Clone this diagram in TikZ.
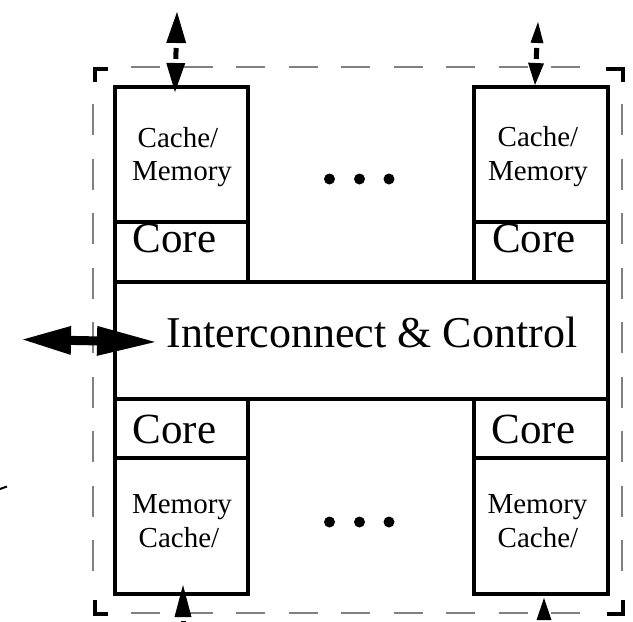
\documentclass[tikz,border=0pt]{standalone}
\usepackage{fontspec}
\setmainfont{Liberation Serif}
\usetikzlibrary{arrows.meta}
\begin{document}
\begin{tikzpicture}[x=1pt,y=-1pt,
  box/.style={draw, line width=4pt, inner sep=0pt, outer sep=0pt},
  smalltxt/.style={font=\fontsize{29}{33}\selectfont, inner sep=0pt, anchor=base},
  coretxt/.style={font=\fontsize{43}{50}\selectfont, inner sep=0pt, anchor=base},
  ictxt/.style={font=\fontsize{44}{50}\selectfont, inner sep=0pt, anchor=base},
  dotnode/.style={circle, fill, inner sep=0pt, minimum size=11pt},
  gdash/.style={draw=gray, line width=1.5pt},
  cornermark/.style={line width=4pt, line cap=butt, line join=miter},
  vlink/.style={line width=5pt},
  hlink/.style={line width=9pt}]
\useasboundingbox (0,0) rectangle (633,622);
\clip (0,0) rectangle (633,622);
% dashed outline
\foreach \x in {131,183.5,...,560} {
  \draw[gdash] (\x,67) -- ++(29,0);
  \draw[gdash] (\x,613) -- ++(29,0);
}
\foreach \y in {104,158.5,...,545} {
  \draw[gdash] (93,\y) -- ++(0,31);
  \draw[gdash] (622,\y) -- ++(0,31);
}
\draw[cornermark] (108,69) -- (95,69) -- (95,82);
\draw[cornermark] (606,69) -- (623,69) -- (623,82);
\draw[cornermark] (95,600) -- (95,614) -- (108,614);
\draw[cornermark] (607,614) -- (623,614) -- (623,600);
% boxes
\node[box, minimum width=133pt, minimum height=135pt] (cmTL) at (181.5,154.5) {};
\node[box, minimum width=133pt, minimum height=60pt] (coreTL) at (181.5,252) {};
\node[box, minimum width=134pt, minimum height=135pt] (cmTR) at (541,154.5) {};
\node[box, minimum width=134pt, minimum height=60pt] (coreTR) at (541,252) {};
\node[box, minimum width=493pt, minimum height=117pt] (ic) at (361.5,340.5) {};
\node[box, minimum width=133pt, minimum height=59pt] (coreBL) at (181.5,428.5) {};
\node[box, minimum width=133pt, minimum height=136pt] (cmBL) at (181.5,526) {};
\node[box, minimum width=134pt, minimum height=59pt] (coreBR) at (541,428.5) {};
\node[box, minimum width=134pt, minimum height=136pt] (cmBR) at (541,526) {};
% texts
\node[smalltxt] (tTL1) at (178,147) {Cache/};
\node[smalltxt] (tTL2) at (182,180) {Memory};
\node[smalltxt] (tTR1) at (538,146) {Cache/};
\node[smalltxt] (tTR2) at (538,180) {Memory};
\node[coretxt] (tcTL) at (174.5,252) {Core};
\node[coretxt] (tcTR) at (534,252) {Core};
\node[ictxt] (tic) at (372,347) {Interconnect \& Control};
\node[coretxt] (tcBL) at (174.5,443) {Core};
\node[coretxt] (tcBR) at (533.5,443) {Core};
\node[smalltxt] (tBL1) at (182,513) {Memory};
\node[smalltxt] (tBL2) at (179,547) {Cache/};
\node[smalltxt] (tBR1) at (537.5,513) {Memory};
\node[smalltxt] (tBR2) at (538,547) {Cache/};
% dots
\foreach \x/\n in {329.5/1,359.5/2,389/3} {
  \node[dotnode] (dt\n) at (\x,179) {};
  \node[dotnode] (db\n) at (\x,522) {};
}
% connectors
\coordinate (tlOut) at (177,12);
\coordinate (tlIn) at (175,92);
\coordinate (trOut) at (538,22);
\coordinate (trIn) at (535,85);
\coordinate (blIn) at (183,585);
\coordinate (blOut) at (183,680);
\coordinate (brIn) at (544,598);
\coordinate (brOut) at (544,680);
\coordinate (lOut) at (23,339.5);
\coordinate (lIn) at (155,342);
\draw[vlink, dash pattern=on 0pt off 5pt on 11pt off 60pt,
  {Triangle[length=31pt,width=20pt,line width=0pt]}-{Triangle[length=29pt,width=19pt,line width=0pt]}] (tlOut) -- (tlIn);
\draw[vlink, dash pattern=on 0pt off 5pt on 11pt off 60pt,
  {Triangle[length=21pt,width=13pt,line width=0pt]}-{Triangle[length=22pt,width=16pt,line width=0pt]}] (trOut) -- (trIn);
\draw[vlink, dash pattern=on 0pt off 4pt on 11pt off 60pt,
  {Triangle[length=32pt,width=17pt,line width=0pt]}-{Triangle[length=31pt,width=20pt,line width=0pt]}] (blIn) -- (blOut);
\draw[vlink, dash pattern=on 0pt off 4pt on 11pt off 60pt,
  {Triangle[length=22pt,width=15pt,line width=0pt]}-{Triangle[length=22pt,width=15pt,line width=0pt]}] (brIn) -- (brOut);
\draw[hlink, {Triangle[length=48pt,width=29pt,line width=0pt]}-{Triangle[length=58pt,width=30pt,line width=0pt]}] (lOut) -- (lIn);
% small mark at left edge
\draw[line width=2pt] (0,489) -- (7,486.5);
\end{tikzpicture}
\end{document}
